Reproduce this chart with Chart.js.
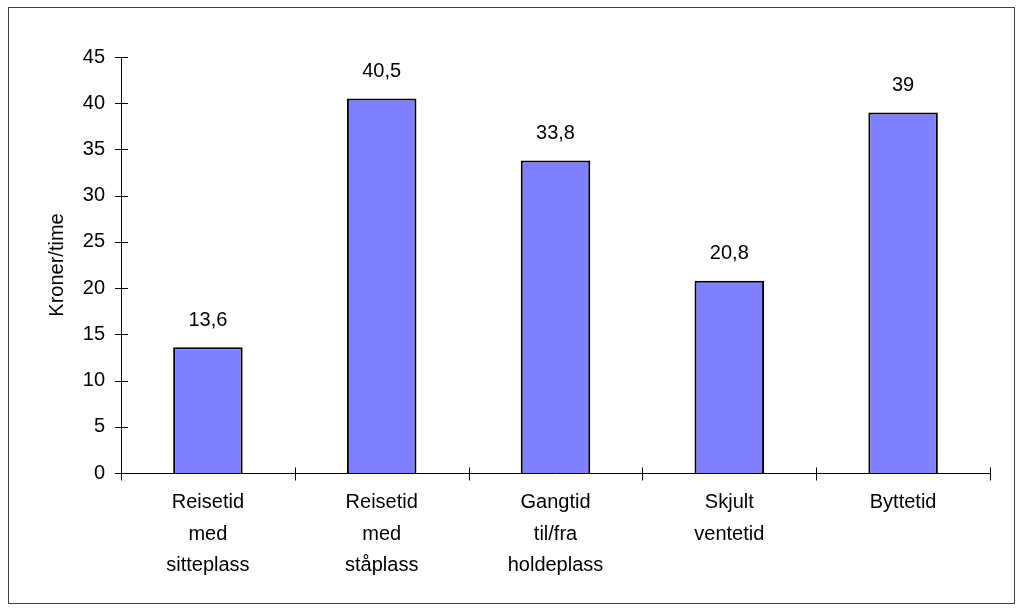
<!DOCTYPE html>
<html>
<head>
<meta charset="utf-8">
<script src="https://cdn.jsdelivr.net/npm/chart.js@4"></script>
<style>
  body { margin: 0; background: #fff; }
  #frame { position: absolute; left: 8px; top: 7px; width: 1005px; height: 595px; border: 1px solid #404040; }
  #wrap { position: absolute; left: 0; top: 0; width: 1022px; height: 610px; }
</style>
</head>
<body>
<div id="frame"></div>
<div id="wrap"><canvas id="chart" width="1022" height="610"></canvas></div>
<script>
// categories and values
var categories = [
    ['Reisetid', 'med', 'sitteplass'],
    ['Reisetid', 'med', 'ståplass'],
    ['Gangtid', 'til/fra', 'holdeplass'],
    ['Skjult', 'ventetid'],
    ['Byttetid']
];
var values = [13.6, 40.5, 33.8, 20.8, 39];
var yTicks = [0, 5, 10, 15, 20, 25, 30, 35, 40, 45];

function fmt(v) {
    return String(v).replace('.', ',');
}

// value labels above the bars
var barLabels = {
    id: 'barLabels',
    afterDatasetsDraw: function (chart) {
        var ctx = chart.ctx;
        var meta = chart.getDatasetMeta(0);
        ctx.save();
        ctx.fillStyle = '#000';
        ctx.font = '20px "Liberation Sans", Arial, sans-serif';
        ctx.textAlign = 'center';
        ctx.textBaseline = 'middle';
        meta.data.forEach(function (bar, i) {
            ctx.fillText(fmt(values[i]), bar.x, bar.y - 27);
        });
        ctx.restore();
    }
};

// tick marks that cross the axis lines, like the original
var crossTicks = {
    id: 'crossTicks',
    afterDraw: function (chart) {
        var ctx = chart.ctx;
        var x = chart.scales.x, y = chart.scales.y;
        var area = chart.chartArea;
        ctx.save();
        ctx.strokeStyle = '#000';
        ctx.lineWidth = 1;
        ctx.beginPath();
        // y axis line and ticks
        ctx.moveTo(area.left + 0.5, area.top);
        ctx.lineTo(area.left + 0.5, area.bottom);
        yTicks.forEach(function (t) {
            var py = Math.round(y.getPixelForValue(t)) + 0.5;
            ctx.moveTo(area.left - 6, py);
            ctx.lineTo(area.left + 7, py);
        });
        // x axis line and category dividers
        var by = Math.round(y.getPixelForValue(0)) + 0.5;
        ctx.moveTo(area.left, by);
        ctx.lineTo(area.right, by);
        for (var i = 0; i <= categories.length; i++) {
            var px = Math.round(x.getPixelForValue(i - 0.5)) + 0.5;
            ctx.moveTo(px, by - 6);
            ctx.lineTo(px, by + 7);
        }
        ctx.stroke();
        ctx.restore();
    }
};

var font = { family: '"Liberation Sans", Arial, sans-serif', size: 20 };

new Chart(document.getElementById('chart'), {
    type: 'bar',
    data: {
        labels: categories,
        datasets: [{
            data: values,
            backgroundColor: '#8080FF',
            borderColor: '#000',
            borderWidth: 2,
            barPercentage: 0.4,
            categoryPercentage: 1
        }]
    },
    options: {
        responsive: false,
        animation: false,
        events: [],
        layout: { padding: { top: 57, right: 32, left: 0, bottom: 0 } },
        plugins: {
            legend: { display: false },
            tooltip: { enabled: false }
        },
        scales: {
            x: {
                border: { display: false },
                grid: { display: false, drawTicks: false },
                ticks: {
                    color: '#000',
                    font: { family: font.family, size: 20, lineHeight: 1.575 },
                    padding: 14,
                    maxRotation: 0,
                    autoSkip: false
                },
                afterFit: function (scale) { scale.height = 137; }
            },
            y: {
                min: 0,
                max: 45,
                border: { display: false },
                grid: { display: false, drawTicks: false },
                ticks: {
                    stepSize: 5,
                    color: '#000',
                    font: font,
                    padding: 16
                },
                title: {
                    display: true,
                    text: 'Kroner/time',
                    color: '#000',
                    font: font,
                    padding: { top: 45, bottom: 0 }
                },
                afterFit: function (scale) { scale.width = 121; }
            }
        }
    },
    plugins: [barLabels, crossTicks]
});
</script>
</body>
</html>
